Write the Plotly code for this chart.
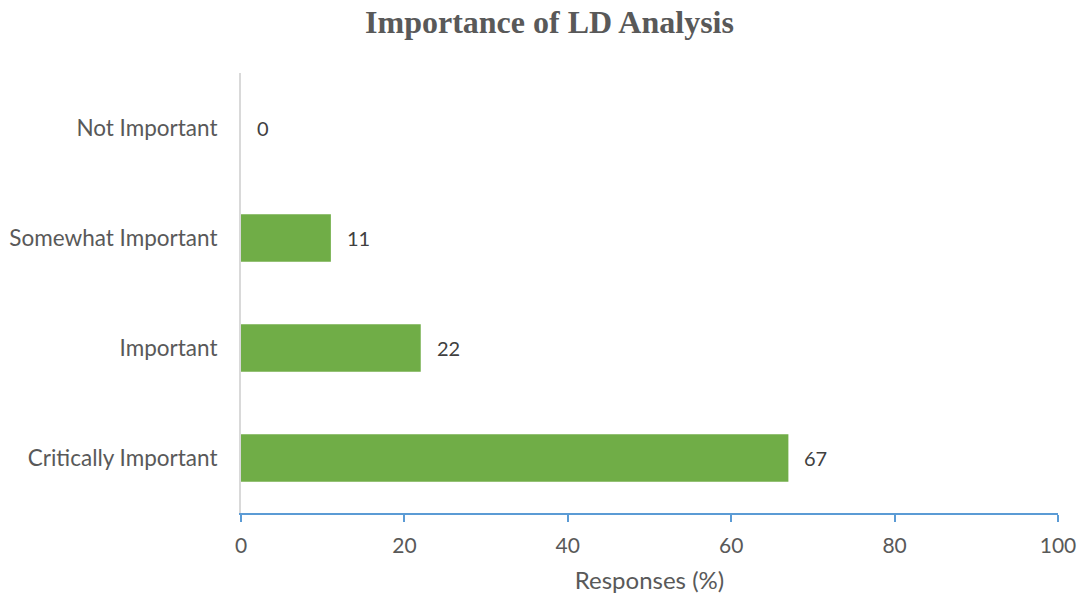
import plotly.graph_objects as go

categories = ["Critically Important", "Important", "Somewhat Important", "Not Important"]
responses = [67, 22, 11, 0]
x_ticks = [0, 20, 40, 60, 80, 100]

fig = go.Figure(
    go.Bar(
        x=responses,
        y=categories,
        orientation="h",
        marker=dict(color="#70AD47", line=dict(width=0)),
        width=0.43,
        cliponaxis=False,
        hoverinfo="x+y",
    )
)

# value labels sit just past the end of each bar
for cat, val in zip(categories, responses):
    fig.add_annotation(
        x=val,
        y=cat,
        text=str(val),
        showarrow=False,
        xanchor="left",
        yanchor="middle",
        xshift=14,
        font=dict(family="Lato", size=20, color="#404040"),
    )

fig.update_layout(
    width=1082,
    height=599,
    margin=dict(l=241, r=24, t=73, b=86),
    paper_bgcolor="white",
    plot_bgcolor="white",
    showlegend=False,
    title=dict(
        text="<b>Importance of LD Analysis</b>",
        x=549.5 / 1082,
        xanchor="center",
        y=1 - 22 / 599,
        yanchor="middle",
        font=dict(family="Liberation Serif", size=32, color="#595959"),
    ),
    xaxis=dict(
        range=[0, 100],
        tickvals=x_ticks,
        showgrid=False,
        zeroline=False,
        showline=True,
        linecolor="#5B9BD5",
        linewidth=2,
        ticks="outside",
        ticklen=7,
        tickwidth=2,
        tickcolor="#5B9BD5",
        ticklabelstandoff=6,
        tickfont=dict(family="Lato", size=21, color="#595959"),
        title=dict(text="Responses (%)", font=dict(family="Lato", size=24, color="#595959"), standoff=16),
        automargin=False,
    ),
    yaxis=dict(
        categoryorder="array",
        categoryarray=categories,
        range=[-0.5, 3.5],
        showgrid=False,
        zeroline=False,
        showline=True,
        linecolor="#D9D9D9",
        linewidth=2,
        ticks="",
        ticklabelstandoff=17,
        tickfont=dict(family="Lato", size=22.5, color="#595959"),
        automargin=False,
    ),
)

fig.write_html("out.html")
